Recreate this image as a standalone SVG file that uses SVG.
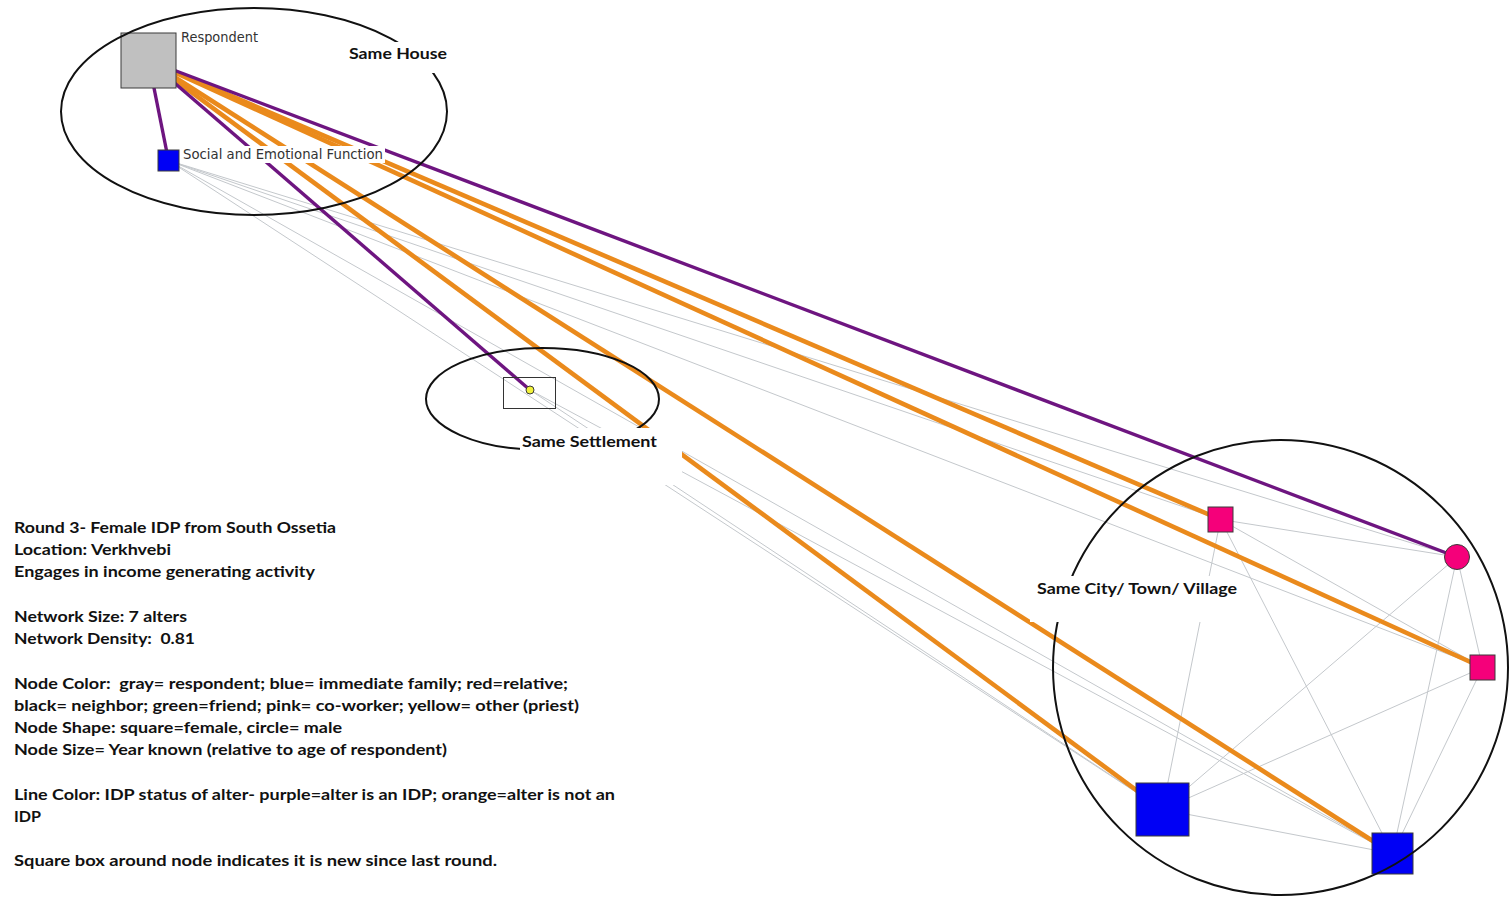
<svg xmlns="http://www.w3.org/2000/svg" width="1510" height="898" viewBox="0 0 1510 898">
  <style>
    .tie { stroke: #c4c8cc; stroke-width: 1; fill: none; }
    .idp { stroke: #6e1580; stroke-width: 3.4; fill: none; }
    .nonidp { stroke: #ea8a1c; stroke-width: 4.6; fill: none; }
    .node { stroke: #3a3a3a; stroke-width: 1; }
    .gray { fill: #c0c0c0; }
    .blue { fill: #0000f5; }
    .pink { fill: #f5007a; }
    .yellow { fill: #f2f23a; }
    .newbox { fill: none; stroke: #333; stroke-width: 1; }
    .zone { fill: none; stroke: #111; stroke-width: 2; }
    .bg { fill: #ffffff; }
    .nlabel { font-family: "DejaVu Sans", Verdana, sans-serif; font-size: 14px; fill: #333; }
    .zlabel { font-family: Lato, "Open Sans", sans-serif; font-weight: bold; font-size: 16px; fill: #111; }
    .legend { font-family: Lato, "Open Sans", sans-serif; font-weight: bold; font-size: 15.5px; fill: #111; white-space: pre; }
  </style>

  <!-- ties between alters -->
  <g id="connectors">
    <g id="alter-ties">
      <line class="tie" x1="168.5" y1="160.5" x2="1220.5" y2="519.5"/>
      <line class="tie" x1="168.5" y1="160.5" x2="1457" y2="557"/>
      <line class="tie" x1="168.5" y1="160.5" x2="1482.5" y2="667.5"/>
      <line class="tie" x1="168.5" y1="160.5" x2="1162.5" y2="809.5"/>
      <line class="tie" x1="168.5" y1="160.5" x2="1392.5" y2="853.5"/>
      <line class="tie" x1="530" y1="390" x2="1162.5" y2="809.5"/>
      <line class="tie" x1="530" y1="390" x2="1392.5" y2="853.5"/>
      <line class="tie" x1="1220.5" y1="519.5" x2="1457" y2="557"/>
      <line class="tie" x1="1220.5" y1="519.5" x2="1482.5" y2="667.5"/>
      <line class="tie" x1="1220.5" y1="519.5" x2="1162.5" y2="809.5"/>
      <line class="tie" x1="1220.5" y1="519.5" x2="1392.5" y2="853.5"/>
      <line class="tie" x1="1457" y1="557" x2="1482.5" y2="667.5"/>
      <line class="tie" x1="1457" y1="557" x2="1162.5" y2="809.5"/>
      <line class="tie" x1="1457" y1="557" x2="1392.5" y2="853.5"/>
      <line class="tie" x1="1482.5" y1="667.5" x2="1162.5" y2="809.5"/>
      <line class="tie" x1="1482.5" y1="667.5" x2="1392.5" y2="853.5"/>
      <line class="tie" x1="1162.5" y1="809.5" x2="1392.5" y2="853.5"/>
    </g>
    <!-- ties from the respondent, coloured by IDP status -->
    <g id="respondent-ties">
      <line class="nonidp" x1="148.5" y1="60.5" x2="1220.5" y2="519.5"/>
      <line class="nonidp" x1="148.5" y1="60.5" x2="1482.5" y2="667.5"/>
      <line class="nonidp" x1="148.5" y1="60.5" x2="1162.5" y2="809.5"/>
      <line class="nonidp" x1="148.5" y1="60.5" x2="1392.5" y2="853.5"/>
      <line class="idp" x1="148.5" y1="60.5" x2="168.5" y2="160.5"/>
      <line class="idp" x1="148.5" y1="60.5" x2="530" y2="390"/>
      <line class="idp" x1="148.5" y1="60.5" x2="1457" y2="557"/>
    </g>
  </g>

  <!-- nodes -->
  <g id="node-respondent">
    <rect class="node gray" x="121" y="33" width="55" height="55"/>
  </g>
  <g id="node-social">
    <rect class="node blue" x="158" y="150" width="21" height="21"/>
  </g>
  <g id="node-settlement">
    <rect class="newbox" x="503.5" y="377.5" width="52" height="31"/>
    <circle class="node yellow" cx="530" cy="390" r="4"/>
  </g>
  <g id="node-pink-a">
    <rect class="node pink" x="1208" y="507" width="25" height="25"/>
  </g>
  <g id="node-pink-circle">
    <circle class="node pink" cx="1457" cy="557" r="12.5"/>
  </g>
  <g id="node-pink-b">
    <rect class="node pink" x="1470" y="655" width="25" height="25"/>
  </g>
  <g id="node-blue-large">
    <rect class="node blue" x="1136" y="783" width="53" height="53"/>
  </g>
  <g id="node-blue-small">
    <rect class="node blue" x="1372" y="833" width="41" height="41"/>
  </g>

  <!-- proximity zones -->
  <g id="zones">
    <ellipse class="zone" cx="254" cy="111.5" rx="193" ry="103.5"/>
    <ellipse class="zone" cx="542.5" cy="399" rx="116.5" ry="51"/>
    <circle class="zone" cx="1280.5" cy="667.5" r="227.5"/>
  </g>

  <!-- labels with white backing -->
  <g id="labels">
    <rect class="bg" x="179" y="28" width="82" height="17"/>
    <text class="nlabel" x="181" y="42" textLength="77" lengthAdjust="spacingAndGlyphs">Respondent</text>
    <rect class="bg" x="181" y="146" width="204" height="17"/>
    <text class="nlabel" x="183" y="159" textLength="200" lengthAdjust="spacingAndGlyphs">Social and Emotional Function</text>
    <rect class="bg" x="345" y="42" width="105" height="31"/>
    <text class="zlabel" x="349" y="59" textLength="98" lengthAdjust="spacingAndGlyphs">Same House</text>
    <rect class="bg" x="520" y="428" width="162" height="57"/>
    <text class="zlabel" x="522" y="447" textLength="135" lengthAdjust="spacingAndGlyphs">Same Settlement</text>
    <rect class="bg" x="1030" y="576" width="210" height="46"/>
    <text class="zlabel" x="1037" y="594" textLength="200" lengthAdjust="spacingAndGlyphs">Same City/ Town/ Village</text>
  </g>

  <!-- legend -->
  <g id="legend">
    <text class="legend" x="14" y="533" textLength="322" lengthAdjust="spacingAndGlyphs">Round 3- Female IDP from South Ossetia</text>
    <text class="legend" x="14" y="555" textLength="157" lengthAdjust="spacingAndGlyphs">Location: Verkhvebi</text>
    <text class="legend" x="14" y="577" textLength="301" lengthAdjust="spacingAndGlyphs">Engages in income generating activity</text>
    <text class="legend" x="14" y="622" textLength="173" lengthAdjust="spacingAndGlyphs">Network Size: 7 alters</text>
    <text class="legend" x="14" y="644" textLength="181" lengthAdjust="spacingAndGlyphs">Network Density:  0.81</text>
    <text class="legend" x="14" y="689" textLength="554" lengthAdjust="spacingAndGlyphs">Node Color:  gray= respondent; blue= immediate family; red=relative;</text>
    <text class="legend" x="14" y="711" textLength="565" lengthAdjust="spacingAndGlyphs">black= neighbor; green=friend; pink= co-worker; yellow= other (priest)</text>
    <text class="legend" x="14" y="733" textLength="328" lengthAdjust="spacingAndGlyphs">Node Shape: square=female, circle= male</text>
    <text class="legend" x="14" y="755" textLength="433" lengthAdjust="spacingAndGlyphs">Node Size= Year known (relative to age of respondent)</text>
    <text class="legend" x="14" y="800" textLength="601" lengthAdjust="spacingAndGlyphs">Line Color: IDP status of alter- purple=alter is an IDP; orange=alter is not an</text>
    <text class="legend" x="14" y="822" textLength="27" lengthAdjust="spacingAndGlyphs">IDP</text>
    <text class="legend" x="14" y="866" textLength="483" lengthAdjust="spacingAndGlyphs">Square box around node indicates it is new since last round.</text>
  </g>
</svg>
